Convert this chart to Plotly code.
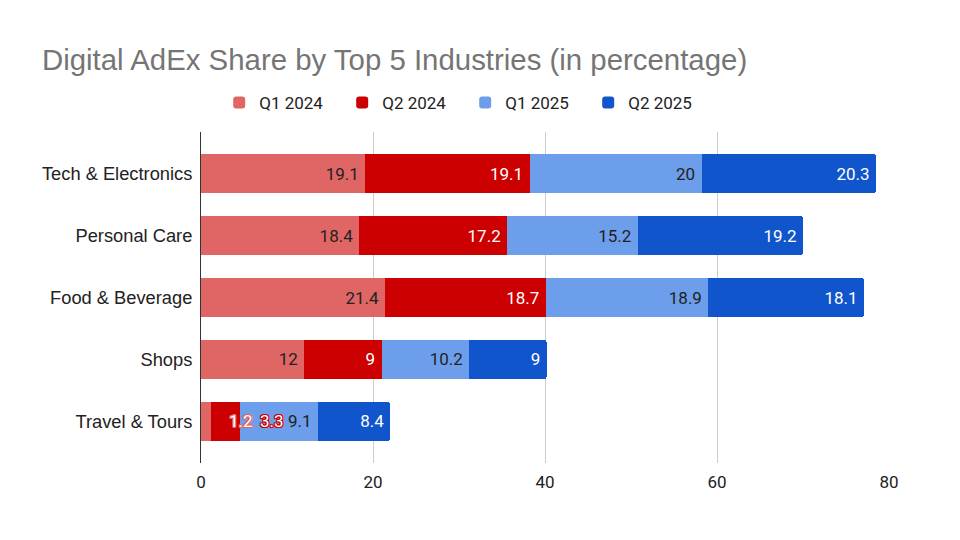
import plotly.graph_objects as go

categories = ["Tech & Electronics", "Personal Care", "Food & Beverage", "Shops", "Travel & Tours"]
series_names = ["Q1 2024", "Q2 2024", "Q1 2025", "Q2 2025"]
q1_2024 = [19.1, 18.4, 21.4, 12, 1.2]
q2_2024 = [19.1, 17.2, 18.7, 9, 3.3]
q1_2025 = [20, 15.2, 18.9, 10.2, 9.1]
q2_2025 = [20.3, 19.2, 18.1, 9, 8.4]
x_ticks = [0, 20, 40, 60, 80]

values = [q1_2024, q2_2024, q1_2025, q2_2025]
colors = ["#e06666", "#cc0000", "#6d9eeb", "#1155cc"]
text_colors = ["#222222", "#ffffff", "#222222", "#ffffff"]
NUM_FONT = "Roboto"
LBL_FONT = "Liberation Sans"

def fmt(v):
    return f"{v:g}"

fig = go.Figure()
small_labels = []  # (category, value, series index)
for i, (name, vals) in enumerate(zip(series_names, values)):
    texts = []
    for j, v in enumerate(vals):
        if v < 4:
            texts.append("")
            small_labels.append((categories[j], v, i))
        else:
            texts.append(fmt(v) + "\u2009")
    fig.add_trace(go.Bar(
        name=name, y=categories, x=vals, orientation="h",
        marker=dict(color=colors[i], line=dict(width=0)),
        text=texts, textposition="inside", insidetextanchor="end",
        textfont=dict(family=NUM_FONT, size=17, color=text_colors[i]),
        hoverinfo="skip",
    ))

# overflow labels for small segments (white text with coloured outline)
offsets = [1, 32]
for idx, (cat, v, i) in enumerate(small_labels):
    j = categories.index(cat)
    anchor_x = sum(values[k][j] for k in range(2))  # start of the next wide segment
    o = colors[i]
    sh = ", ".join(f"{dx}px {dy}px 0 {o}" for dx in (-1, 0, 1) for dy in (-1, 0, 1) if dx or dy)
    fig.add_annotation(
        x=anchor_x, y=cat, xref="x", yref="y", text=fmt(v), showarrow=False,
        xanchor="center", xshift=offsets[idx],
        font=dict(family=NUM_FONT, size=17, color="#ffffff", shadow=sh),
    )

fig.update_layout(
    width=960, height=540,
    barmode="stack", bargap=0.37, barcornerradius=3,
    paper_bgcolor="white", plot_bgcolor="white",
    margin=dict(l=193, r=79, t=124, b=85),
    font=dict(family=NUM_FONT, size=17, color="#222222"),
    title=dict(text="Digital AdEx Share by Top 5 Industries (in percentage)",
               x=0.0354, xanchor="left", y=0.904, yanchor="middle",
               font=dict(family=LBL_FONT, size=29.4, color="#757575")),
    legend=dict(orientation="h", x=0.384, xanchor="center", y=1.0876, yanchor="middle",
                font=dict(family=NUM_FONT, size=17, color="#222222"),
                itemwidth=30, entrywidth=78, traceorder="normal"),
    showlegend=True,
    uniformtext=dict(minsize=17, mode="show"),
)
fig.update_xaxes(range=[0, 80], tickvals=x_ticks, showgrid=True, gridcolor="#cccccc",
                 zeroline=False, showline=False, ticks="", ticklabelstandoff=7,
                 tickfont=dict(family=NUM_FONT, size=17, color="#222222"), fixedrange=True)
fig.update_yaxes(range=[4.67, -0.67], showline=True, linecolor="#333333", linewidth=1,
                 showgrid=False, ticks="", ticklabelstandoff=4,
                 tickfont=dict(family=LBL_FONT, size=18.3, color="#222222"), fixedrange=True)

fig.write_html("out.html")
